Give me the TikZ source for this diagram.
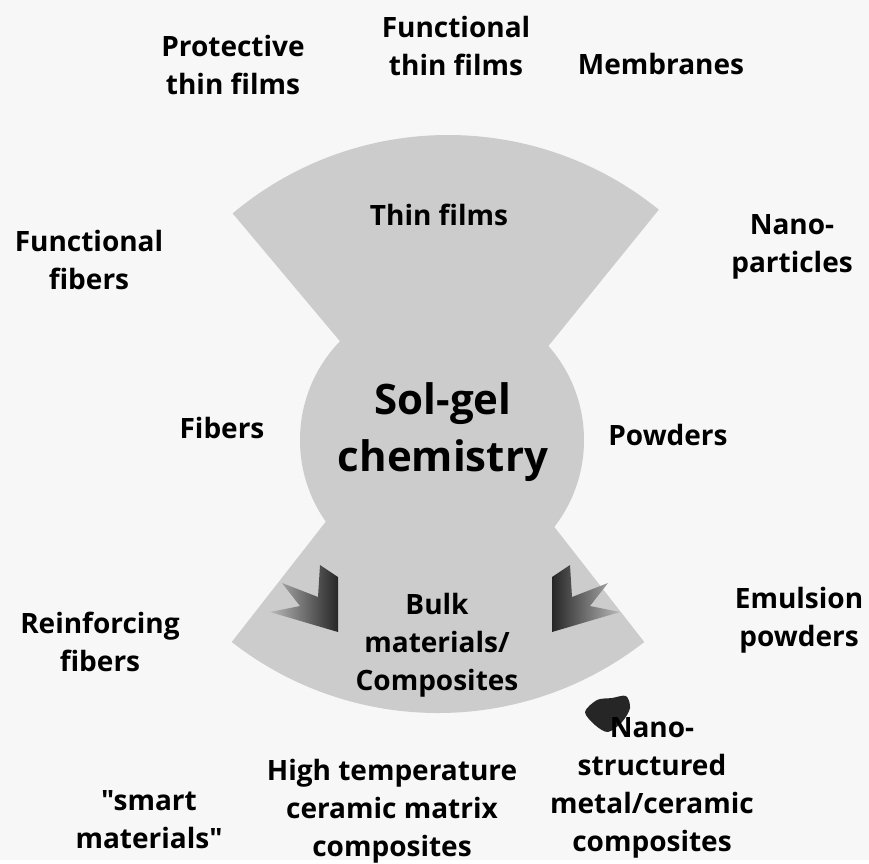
\documentclass[tikz,border=0pt]{standalone}
\usepackage{fontspec}
\setmainfont{Open Sans}[Ligatures=TeXOff]
\usetikzlibrary{positioning}
\definecolor{scangray}{gray}{0.80}
\tikzset{
    lbl/.style={align=center,inner sep=0pt,font=\fontsize{28}{38}\selectfont\bfseries},
    core/.style={align=center,inner sep=0pt,font=\fontsize{42}{57}\selectfont\bfseries},
    lobe/.style={fill=scangray},
    tipL/.style={left color=gray!55,right color=black!85},
    tipR/.style={left color=black!85,right color=gray!55}
}
\begin{document}
\begin{tikzpicture}[x=1pt,y=-1pt]
            % page and shaded lobes
            \fill[gray!6] (0,0) rectangle (869,860);
            \fill[lobe] (448,470) -- ++(230:335) arc[start angle=230,end angle=309,radius=335] -- cycle;
            \fill[lobe] (438,378) -- ++(128:335) arc[start angle=128,end angle=52,radius=335] -- cycle;
            \fill[lobe] (442,440) circle[radius=142];
            % dark tips
            \shade[tipL] (338,632) -- (270,612) -- (300,606) -- (282,583) -- (318,597) -- (320,565) -- (338,577) -- cycle;
            \shade[tipR] (552,632) -- (620,612) -- (590,606) -- (608,583) -- (572,597) -- (570,565) -- (552,577) -- cycle;
            \fill[black!85] plot[smooth cycle] coordinates {(585,712) (597,700) (612,698) (626,696) (630,708) (622,722) (608,732) (595,725)};
            % labels
            \node[lbl] (protect) at (233,65) {Protective\\thin films};
            \node[lbl] (funcfilm) at (456,46) {Functional\\thin films};
            \node[lbl] (membr) at (661,64) {Membranes};
            \node[lbl] (thin) at (439,215) {Thin films};
            \node[lbl] (funcfib) at (89,260) {Functional\\fibers};
            \node[lbl] (nanopart) at (792,247) {Nano-\\particles};
            \node[lbl] (fib) at (222,428) {Fibers};
            \node[core] (solgel) at (443,432) {Sol-gel\\chemistry};
            \node[lbl] (powd) at (668,435) {Powders};
            \node[lbl] (bulk) at (437,645) {Bulk\\materials/\\Composites};
            \node[lbl] (reinf) at (100,642) {Reinforcing\\fibers};
            \node[lbl] (emuls) at (799,620) {Emulsion\\powders};
            \node[lbl] (nanostr) at (652,788) {Nano-\\structured\\metal/ceramic\\composites};
            \node[lbl] (hightemp) at (392,811) {High temperature\\ceramic matrix\\composites};
            \node[lbl] (smart) at (149,820) {"smart\\materials"};
\end{tikzpicture}
\end{document}
